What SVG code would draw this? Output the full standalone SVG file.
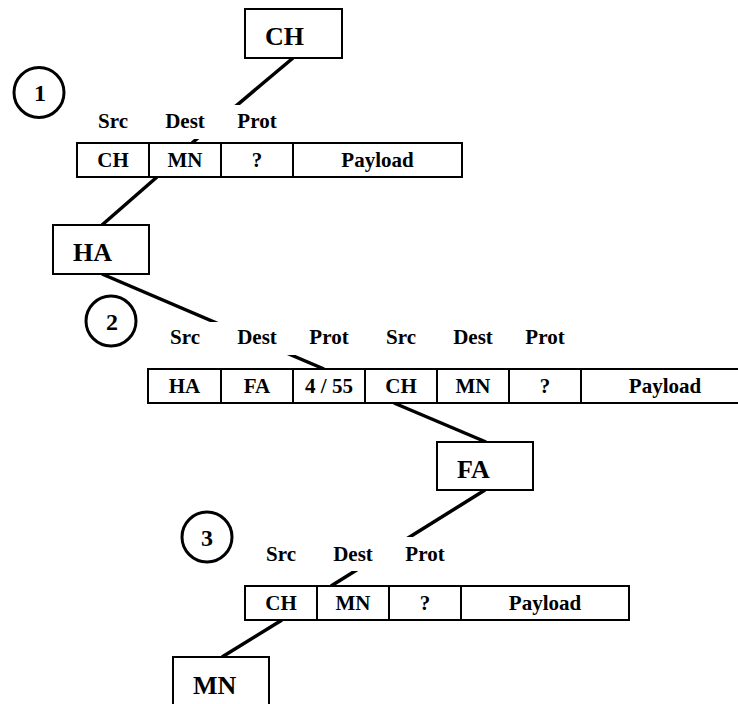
<svg xmlns="http://www.w3.org/2000/svg" width="738" height="704" viewBox="0 0 738 704">
  <style>
    text { font-family: "Liberation Serif", "Times New Roman", serif; font-weight: bold; fill: #000; }
    .node-box { fill: #fff; stroke: #000; stroke-width: 2; }
    .node-label { font-size: 26px; }
    .cell { fill: #fff; stroke: #000; stroke-width: 2; }
    .cell-text { font-size: 21px; text-anchor: middle; }
    .field { font-size: 21px; text-anchor: middle; }
    .mask { fill: #fff; stroke: none; }
    .step { fill: #fff; stroke: #000; stroke-width: 3; }
    .step-num { font-size: 24px; text-anchor: middle; }
    .link { stroke: #000; stroke-width: 3.5; fill: none; }
  </style>

  <!-- connectors (drawn first so header label strips sit on top of them) -->
  <g id="connectors">
    <line class="link" x1="293" y1="58" x2="192" y2="143"/>
    <line class="link" x1="157" y1="177" x2="102" y2="225"/>
    <line class="link" x1="102" y1="274" x2="324" y2="369"/>
    <line class="link" x1="394" y1="403" x2="486" y2="442"/>
    <line class="link" x1="485" y1="490" x2="331" y2="586"/>
    <line class="link" x1="282" y1="620" x2="222" y2="657"/>
  </g>

  <!-- step markers -->
  <g id="step-1">
    <circle class="step" cx="39" cy="92.5" r="25"/>
    <text class="step-num" x="40" y="101">1</text>
  </g>
  <g id="step-2">
    <circle class="step" cx="111" cy="321" r="25"/>
    <text class="step-num" x="112" y="329.5">2</text>
  </g>
  <g id="step-3">
    <circle class="step" cx="207" cy="537" r="25"/>
    <text class="step-num" x="207" y="545.5">3</text>
  </g>

  <!-- hosts -->
  <g id="node-ch">
    <rect class="node-box" x="245" y="9" width="97" height="49"/>
    <text class="node-label" x="265" y="45">CH</text>
  </g>
  <g id="node-ha">
    <rect class="node-box" x="53" y="225" width="96" height="49"/>
    <text class="node-label" x="73" y="261">HA</text>
  </g>
  <g id="node-fa">
    <rect class="node-box" x="437" y="442" width="96" height="48"/>
    <text class="node-label" x="457" y="478">FA</text>
  </g>
  <g id="node-mn">
    <rect class="node-box" x="173" y="657" width="96" height="49"/>
    <text class="node-label" x="193" y="694">MN</text>
  </g>

  <!-- packet 1: original datagram -->
  <g id="packet-1">
    <rect class="mask" x="88" y="105" width="205" height="34"/>
    <text class="field" x="113" y="128">Src</text>
    <text class="field" x="185" y="128">Dest</text>
    <text class="field" x="257" y="128">Prot</text>
    <rect class="cell" x="77" y="143" width="72" height="34"/>
    <rect class="cell" x="149" y="143" width="72" height="34"/>
    <rect class="cell" x="221" y="143" width="72" height="34"/>
    <rect class="cell" x="293" y="143" width="169" height="34"/>
    <text class="cell-text" x="113" y="167">CH</text>
    <text class="cell-text" x="185" y="167">MN</text>
    <text class="cell-text" x="257" y="167">?</text>
    <text class="cell-text" x="377.5" y="167">Payload</text>
  </g>

  <!-- packet 2: tunnelled datagram -->
  <g id="packet-2">
    <rect class="mask" x="160" y="322" width="415" height="33"/>
    <text class="field" x="185" y="344">Src</text>
    <text class="field" x="257" y="344">Dest</text>
    <text class="field" x="329" y="344">Prot</text>
    <text class="field" x="401" y="344">Src</text>
    <text class="field" x="473" y="344">Dest</text>
    <text class="field" x="545" y="344">Prot</text>
    <rect class="cell" x="148" y="369" width="73" height="34"/>
    <rect class="cell" x="221" y="369" width="72" height="34"/>
    <rect class="cell" x="293" y="369" width="72" height="34"/>
    <rect class="cell" x="365" y="369" width="72" height="34"/>
    <rect class="cell" x="437" y="369" width="72" height="34"/>
    <rect class="cell" x="509" y="369" width="72" height="34"/>
    <rect class="cell" x="581" y="369" width="168" height="34"/>
    <text class="cell-text" x="184.5" y="393">HA</text>
    <text class="cell-text" x="257" y="393">FA</text>
    <text class="cell-text" x="329" y="393">4 / 55</text>
    <text class="cell-text" x="401" y="393">CH</text>
    <text class="cell-text" x="473" y="393">MN</text>
    <text class="cell-text" x="545" y="393">?</text>
    <text class="cell-text" x="665" y="393">Payload</text>
  </g>

  <!-- packet 3: decapsulated datagram -->
  <g id="packet-3">
    <rect class="mask" x="255" y="537" width="200" height="34"/>
    <text class="field" x="281" y="561">Src</text>
    <text class="field" x="353" y="561">Dest</text>
    <text class="field" x="425" y="561">Prot</text>
    <rect class="cell" x="245" y="586" width="72" height="34"/>
    <rect class="cell" x="317" y="586" width="72" height="34"/>
    <rect class="cell" x="389" y="586" width="72" height="34"/>
    <rect class="cell" x="461" y="586" width="168" height="34"/>
    <text class="cell-text" x="281" y="610">CH</text>
    <text class="cell-text" x="353" y="610">MN</text>
    <text class="cell-text" x="425" y="610">?</text>
    <text class="cell-text" x="545" y="610">Payload</text>
  </g>
</svg>
